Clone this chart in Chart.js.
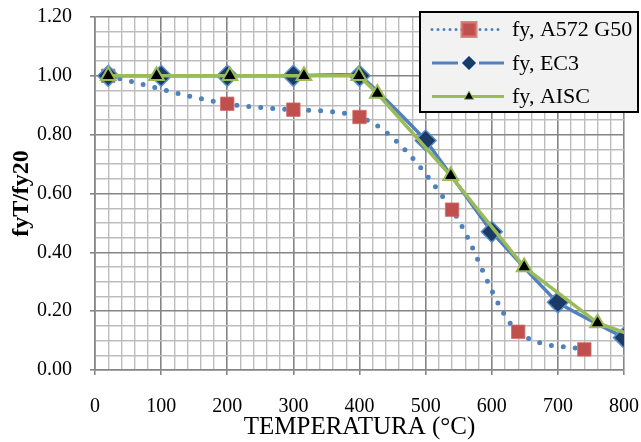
<!DOCTYPE html>
<html>
<head>
<meta charset="utf-8">
<script src="https://cdn.jsdelivr.net/npm/chart.js@4/dist/chart.umd.min.js"></script>
<style>
    html, body { margin: 0; padding: 0; background: #fff; }
    #wrap { width: 641px; height: 442px; }
</style>
</head>
<body>
<div id="wrap"><canvas id="chart" width="641" height="442"></canvas></div>
<script>
// fy(T)/fy(20) reduction factors
const tempA572 = [20, 200, 300, 400, 540, 640, 740];
const fyA572 = [1.0, 0.905, 0.885, 0.86, 0.545, 0.13, 0.07];

const tempEC3 = [20, 100, 200, 300, 400, 500, 600, 700, 800];
const fyEC3 = [1.0, 1.0, 1.0, 1.0, 1.0, 0.78, 0.47, 0.23, 0.11];

const tempAISC = [20, 93, 204, 316, 399, 427, 538, 649, 760, 871];
const fyAISC = [1.0, 1.0, 1.0, 1.0, 1.0, 0.94, 0.66, 0.35, 0.16, 0.07];

const seriesNames = ['fy, A572 G50', 'fy, EC3', 'fy, AISC'];

const xTitle = 'TEMPERATURA (°C)';
const yTitle = 'fyT/fy20';

const SERIF = "'Liberation Serif', 'Times New Roman', serif";
const BLUE = '#4F81BD';
const RED = '#C0504D';
const GREEN = '#9BBB59';
const NAVY = '#1B3A64';
const GRID_MAJOR = '#858585';
const GRID_MINOR = '#BDBDBD';

function toPoints(xs, ys) {
    return xs.map((x, i) => ({ x, y: ys[i] }));
}

function isMajorX(v) { return Math.round(v) % 100 === 0; }
function isMajorY(v) { return Math.round(v * 100) % 20 === 0; }

// legend box drawn over the plot, top right
const boxLegend = {
    id: 'boxLegend',
    afterDraw(chart) {
        const ctx = chart.ctx;
        const ds = chart.data.datasets;
        const box = { x: 420, y: 12, w: 218, h: 100 };
        const rows = [29.5, 63, 96.5];
        const lineL = 432, lineR = 504, mid = 469;

        ctx.save();
        ctx.fillStyle = '#F2F2F2';
        ctx.fillRect(box.x, box.y, box.w, box.h);
        ctx.lineWidth = 2;
        ctx.strokeStyle = '#000';
        ctx.strokeRect(box.x, box.y, box.w, box.h);

        ds.forEach((d, i) => {
            const y = rows[i];
            ctx.strokeStyle = d.borderColor;
            ctx.lineCap = i === 0 ? 'round' : 'butt';
            ctx.lineWidth = 3;
            ctx.setLineDash(i === 0 ? [0, 6] : []);
            ctx.beginPath();
            if (i === 1) {
                // solid line broken around the marker
                ctx.moveTo(lineL, y); ctx.lineTo(mid - 11, y);
                ctx.moveTo(mid + 10, y); ctx.lineTo(lineR, y);
            } else {
                ctx.moveTo(lineL, y); ctx.lineTo(lineR, y);
            }
            ctx.stroke();
            ctx.setLineDash([]);

            const legendRadius = [10, 7, 5.5][i];
            ctx.fillStyle = d.pointBackgroundColor;
            ctx.strokeStyle = d.pointBorderColor;
            ctx.lineWidth = i === 0 ? 0 : 1;
            Chart.helpers.drawPoint(ctx, {
                pointStyle: d.pointStyle,
                radius: legendRadius,
                borderWidth: ctx.lineWidth,
                rotation: 0
            }, mid, y);

            ctx.fillStyle = '#000';
            ctx.font = '22px ' + SERIF;
            ctx.textAlign = 'left';
            ctx.textBaseline = 'middle';
            ctx.fillText(d.label, 512, y + 1);
        });
        ctx.restore();
    }
};

new Chart(document.getElementById('chart'), {
    type: 'line',
    data: {
        datasets: [
            {
                label: seriesNames[0],
                data: toPoints(tempA572, fyA572),
                order: 3,
                borderColor: BLUE,
                borderWidth: 5,
                borderDash: [0, 12],
                borderCapStyle: 'round',
                cubicInterpolationMode: 'monotone',
                pointStyle: 'rect',
                pointRadius: 9.5,
                pointBackgroundColor: RED,
                pointBorderColor: 'rgba(210,110,105,0.8)',
                pointBorderWidth: 1
            },
            {
                label: seriesNames[1],
                data: toPoints(tempEC3, fyEC3),
                order: 2,
                borderColor: BLUE,
                borderWidth: 3.5,
                tension: 0.1,
                pointStyle: 'rectRot',
                pointRadius: 10.5,
                pointBackgroundColor: NAVY,
                pointBorderColor: '#5A8FD0',
                pointBorderWidth: 1.5
            },
            {
                label: seriesNames[2],
                data: toPoints(tempAISC, fyAISC),
                order: 1,
                clip: { left: 12, top: 12, right: 0, bottom: 12 },
                borderColor: GREEN,
                borderWidth: 3.5,
                tension: 0,
                pointStyle: 'triangle',
                pointRadius: 8.5,
                pointBackgroundColor: '#000',
                pointBorderColor: GREEN,
                pointBorderWidth: 2
            }
        ]
    },
    options: {
        responsive: false,
        animation: false,
        layout: { padding: { left: 0, top: 17, right: 17, bottom: 0 } },
        plugins: {
            legend: { display: false },
            tooltip: { enabled: false }
        },
        scales: {
            x: {
                type: 'linear',
                min: 0,
                max: 800,
                afterFit: (scale) => {
                    scale.height = 72;
                    scale.paddingLeft = 0;
                    scale.paddingRight = 0;
                },
                ticks: {
                    stepSize: 20,
                    autoSkip: false,
                    maxRotation: 0,
                    padding: 20,
                    color: '#000',
                    font: { family: SERIF, size: 20 },
                    callback: (v) => isMajorX(v) ? String(v) : ''
                },
                grid: {
                    color: (c) => isMajorX(c.tick.value) ? GRID_MAJOR : GRID_MINOR,
                    lineWidth: (c) => isMajorX(c.tick.value) ? 1.6 : 1.4,
                    tickColor: (c) => isMajorX(c.tick.value) ? GRID_MAJOR : 'rgba(0,0,0,0)',
                    tickLength: 5
                },
                border: { color: GRID_MAJOR, width: 1.6 },
                title: {
                    display: true,
                    text: xTitle,
                    color: '#000',
                    font: { family: SERIF, size: 25 },
                    padding: { top: 0, bottom: 0 }
                }
            },
            y: {
                min: 0,
                max: 1.2,
                afterFit: (scale) => {
                    scale.width = 95;
                    scale.paddingTop = 0;
                    scale.paddingBottom = 0;
                },
                ticks: {
                    stepSize: 0.05,
                    autoSkip: false,
                    padding: 18,
                    color: '#000',
                    font: { family: SERIF, size: 20 },
                    callback: (v) => isMajorY(v) ? v.toFixed(2) : ''
                },
                grid: {
                    color: (c) => isMajorY(c.tick.value) ? GRID_MAJOR : GRID_MINOR,
                    lineWidth: (c) => isMajorY(c.tick.value) ? 1.6 : 1.4,
                    tickColor: (c) => isMajorY(c.tick.value) ? GRID_MAJOR : 'rgba(0,0,0,0)',
                    tickLength: 5
                },
                border: { color: GRID_MAJOR, width: 1.6 },
                title: {
                    display: true,
                    text: yTitle,
                    color: '#000',
                    font: { family: SERIF, size: 24, weight: 'bold' },
                    padding: { top: 7, bottom: 0 }
                }
            }
        }
    },
    plugins: [boxLegend]
});
</script>
</body>
</html>
